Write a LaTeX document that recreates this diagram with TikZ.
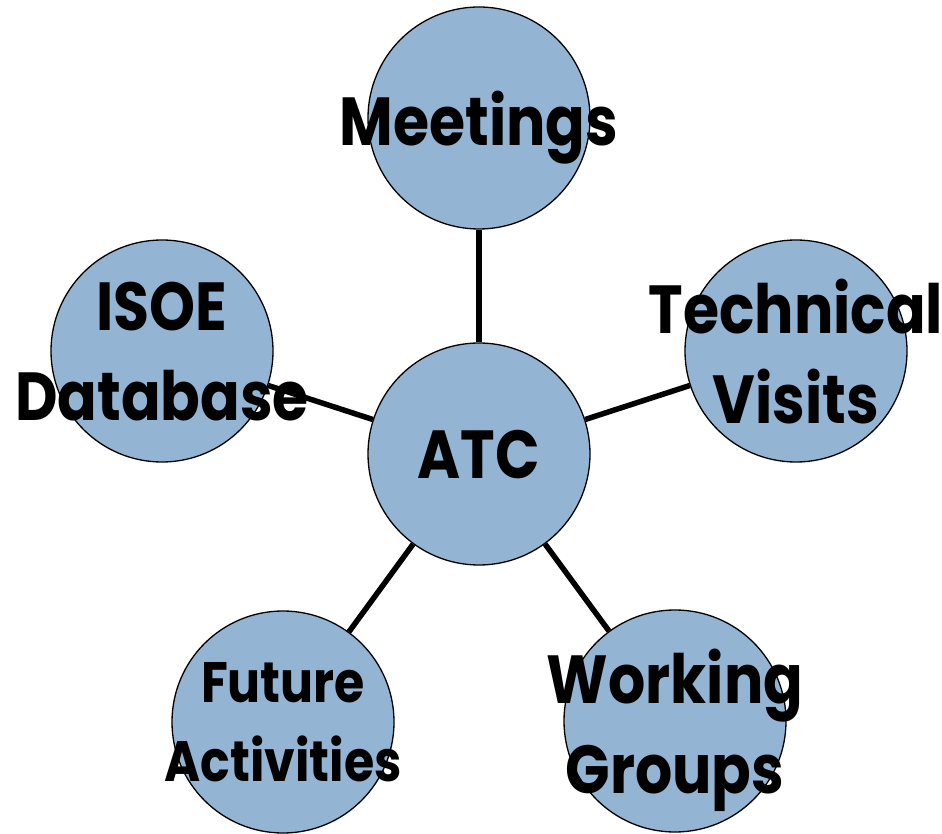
\documentclass[tikz,border=0pt]{standalone}
\usepackage{fontspec}
\setmainfont{Poppins}[FakeStretch=0.86]
\usepackage{tikz}
\usetikzlibrary{positioning}

\definecolor{bubblefill}{RGB}{147,181,211}

\tikzset{
	bubble/.style={circle, draw=black, line width=1.3pt, fill=bubblefill,
		minimum size=222pt, inner sep=0pt},
	spoke/.style={line width=5.5pt, black},
	bubbletext/.style={align=center, inner sep=0pt, text depth=0pt,
		font=\fontsize{68}{90}\selectfont\bfseries},
	smalltext/.style={bubbletext, font=\fontsize{57}{79}\selectfont\bfseries}
}

\begin{document}
\begin{tikzpicture}[x=1pt, y=1pt]
	
	% ------------------------------------------------
	% Size of the page
	\useasboundingbox (0,0) rectangle (942,833);
	
	% ------------------------------------------------
	% Bubbles
	\node[bubble] (ATC)  at (479,379) {};
	\node[bubble] (Meet) at (479,715) {};
	\node[bubble] (ISOE) at (162,482) {};
	\node[bubble] (Tech) at (796,482) {};
	\node[bubble] (Futr) at (283,111) {};
	\node[bubble] (Work) at (675,112) {};
	
	% ----------------
	% Spokes
	\draw[spoke] (ATC) -- (Meet);
	\draw[spoke] (ATC) -- (ISOE);
	\draw[spoke] (ATC) -- (Tech);
	\draw[spoke] (ATC) -- (Futr);
	\draw[spoke] (ATC) -- (Work);
	
	% ----------------
	% Texts
	\node[bubbletext] (ATCText)  at (ATC)  {ATC};
	\node[bubbletext] (MeetText) at (Meet) {Meetings};
	\node[bubbletext] (ISOEText) at (ISOE) {ISOE\\Database};
	\node[bubbletext] (TechText) at (Tech) {Technical\\Visits};
	\node[smalltext]  (FutrText) at (Futr) {Future\\Activities};
	\node[bubbletext] (WorkText) at (Work) {Working\\Groups};
	
\end{tikzpicture}
\end{document}
